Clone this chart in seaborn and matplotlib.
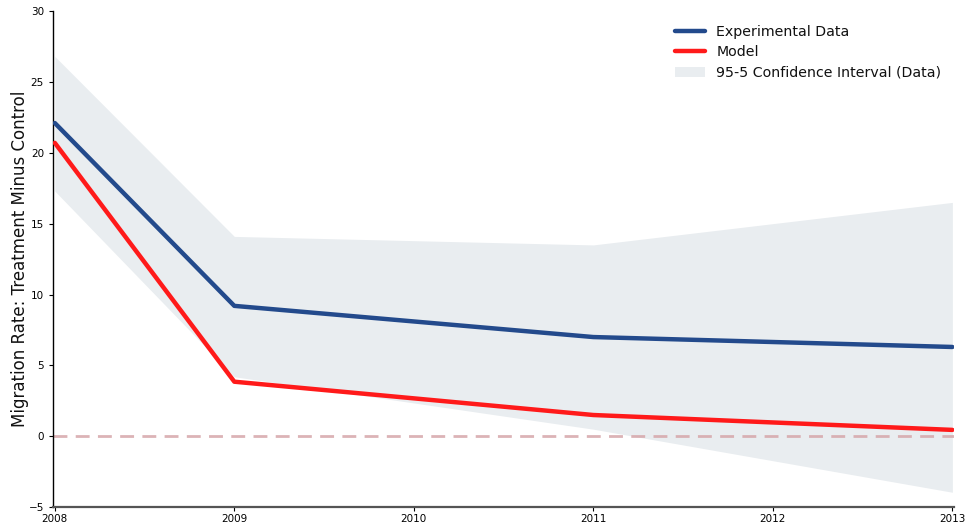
import matplotlib
matplotlib.use("Agg")
import matplotlib.pyplot as plt
import seaborn as sns
import pandas as pd

years = [2008, 2009, 2011, 2013]
experimental = [22.1, 9.2, 7.0, 6.3]
model = [20.7, 3.85, 1.5, 0.45]
ci_upper = [26.8, 14.1, 13.5, 16.5]
ci_lower = [17.3, 4.2, 0.5, -3.95]
xticks = [2008, 2009, 2010, 2011, 2012, 2013]

sns.set_style("white")
plt.rcParams["font.family"] = ["DejaVu Sans"]
plt.rcParams["text.color"] = "#111111"
plt.rcParams["axes.labelcolor"] = "#111111"

fig = plt.figure(figsize=(9.69, 5.25), dpi=100)
ax = fig.add_axes([0.0547, 0.034, 0.930, 0.945])

df = pd.DataFrame({"year": years, "exp": experimental, "model": model})

ax.fill_between(years, ci_lower, ci_upper, color="#e9edf0", lw=0,
                label="95-5 Confidence Interval (Data)", zorder=1)
ax.axhline(0, color="#d6a6aa", lw=2, ls=(0, (5, 3)), alpha=0.85, zorder=2)
sns.lineplot(data=df, x="year", y="exp", ax=ax, color="#234a8c", lw=3.2,
             label="Experimental Data", zorder=3)
sns.lineplot(data=df, x="year", y="model", ax=ax, color="#ff1a1a", lw=3.2,
             label="Model", zorder=3)

ax.set_xlim(2007.99, 2013.01)
ax.set_ylim(-5, 30)
ax.set_xticks(xticks)
ax.set_xticklabels([str(x) for x in xticks], fontsize=7.5)
ax.set_yticks(range(-5, 31, 5))
ax.tick_params(axis="y", labelsize=7.5, length=3, width=0.8, color="black",
               labelcolor="black", left=True)
ax.tick_params(axis="x", length=3, width=0.8, color="black", labelcolor="black",
               bottom=True, pad=2)
ax.set_xlabel("")
ax.set_ylabel("Migration Rate: Treatment Minus Control", fontsize=12, labelpad=0)

for side in ["top", "right"]:
    ax.spines[side].set_visible(False)
ax.spines["left"].set_color("black")
ax.spines["left"].set_linewidth(1.0)
ax.spines["bottom"].set_color("#555555")
ax.spines["bottom"].set_linewidth(1.6)

handles, labels = ax.get_legend_handles_labels()
order = [labels.index(l) for l in ["Experimental Data", "Model", "95-5 Confidence Interval (Data)"]]
ax.legend([handles[i] for i in order], [labels[i] for i in order],
          loc="upper right", frameon=False, fontsize=10.2,
          bbox_to_anchor=(1.0, 0.998), handlelength=2.1, labelspacing=0.45)

fig.savefig("out.png", dpi=100)
